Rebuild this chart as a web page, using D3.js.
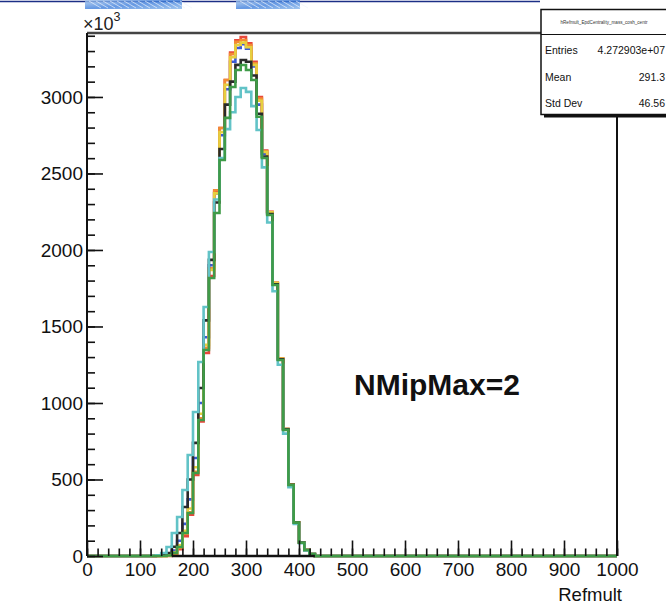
<!DOCTYPE html>
<html>
<head>
<meta charset="utf-8">
<script src="https://cdn.jsdelivr.net/npm/d3@7/dist/d3.min.js"></script>
<style>
  html, body { margin: 0; padding: 0; background: #fff; }
  svg { display: block; font-family: "Liberation Sans", Arial, Helvetica, sans-serif; }
</style>
</head>
<body>
<svg id="chart" width="666" height="606"></svg>
<script>
// Refmult distributions, bin width 10, counts in units of 10^3, first bin starts at 120
const binWidth = 10;
const firstBin = 120;
const xTicks = [0, 100, 200, 300, 400, 500, 600, 700, 800, 900, 1000];
const yTicks = [0, 500, 1000, 1500, 2000, 2500, 3000];

const seriesNames = ["blue", "red", "orange", "yellow", "black", "teal", "green"];
const seriesColors = ["#3b5bd6", "#e8473b", "#f28c33", "#e6cf3f", "#2a2a2a", "#62c3c7", "#3f9b48"];

//                 120 130 140 150  160  170  180  190  200  210  220   230   240   250   260   270   280   290   300   310   320   330   340   350   360   370  380  390  400 410 420
const blueVals   = [0,  0,  3,  10,  35, 100, 210, 370, 640, 1000, 1430, 1900, 2370, 2750, 3050, 3230, 3320, 3345, 3315, 3200, 2950, 2630, 2245, 1782, 1288, 829, 466, 220, 88, 39, 13];
const redVals    = [0,  0,  0,  0,   10,  45, 130, 270, 529, 880, 1327, 1830, 2380, 2797, 3111, 3290, 3370, 3392, 3350, 3230, 3000, 2650, 2250, 1785, 1290, 830, 467, 220, 88, 39, 13];
const orangeVals = [0,  0,  0,  2,   15,  55, 145, 285, 550, 900, 1360, 1880, 2390, 2797, 3111, 3280, 3360, 3372, 3340, 3220, 2990, 2645, 2248, 1785, 1290, 830, 467, 220, 88, 39, 13];
const yellowVals = [0,  0,  0,  4,   22,  70, 165, 310, 580, 930, 1380, 1870, 2370, 2770, 3080, 3260, 3340, 3355, 3325, 3210, 2975, 2640, 2246, 1784, 1289, 829, 466, 220, 88, 39, 13];
const blackVals  = [0,  2,  6,  20,  60, 150, 320, 500, 739, 1098, 1540, 1935, 2310, 2660, 2950, 3100, 3210, 3242, 3230, 3140, 2890, 2610, 2235, 1775, 1285, 828, 466, 219, 88, 39, 13];
const tealVals   = [2,  5, 20,  59, 150, 255, 431, 660, 941, 1268, 1627, 1987, 2330, 2600, 2790, 2900, 3000, 3059, 3033, 2940, 2784, 2540, 2180, 1730, 1250, 800, 450, 210, 84, 37, 12];
const greenVals  = [0,  0,  0,  3,   20,  59, 150, 281, 542, 889, 1346, 1817, 2242, 2588, 2863, 3065, 3176, 3209, 3176, 3111, 2871, 2601, 2229, 1771, 1281, 824, 464, 218, 87, 39, 13];

const seriesValues = [blueVals, redVals, orangeVals, yellowVals, blackVals, tealVals, greenVals];

const statsTitle = "hRefmult_EpdCentrality_mass_cosh_centr";
const statsLabels = ["Entries", "Mean", "Std Dev"];
const statsValues = ["4.272903e+07", "291.3", "46.56"];

const annotation = "NMipMax=2";
const xTitle = "Refmult";

const svg = d3.select("#chart");
const frame = { left: 87, right: 617, top: 33, bottom: 556 };

const x = d3.scaleLinear().domain([0, 1000]).range([frame.left, frame.right]);
const y = d3.scaleLinear().domain([0, 3418]).range([frame.bottom, frame.top]);

// decorative strip along the top edge of the window
const topStrip = svg.append("g");
const grad = svg.append("defs").append("linearGradient").attr("id", "streak")
  .attr("x1", "0").attr("x2", "1").attr("y1", "0").attr("y2", "1");
grad.append("stop").attr("offset", "0%").attr("stop-color", "#a9c9ee");
grad.append("stop").attr("offset", "50%").attr("stop-color", "#3f7fdc");
grad.append("stop").attr("offset", "100%").attr("stop-color", "#8ab8ec");
topStrip.append("line").attr("x1", 0).attr("x2", 540).attr("y1", 1.5).attr("y2", 1.5)
  .attr("stroke", "#1c2f86").attr("stroke-width", 1.5);
[[85, 182], [236, 300]].forEach(([a, b]) => {
  topStrip.append("rect").attr("x", a).attr("y", 0).attr("width", b - a).attr("height", 9)
    .attr("fill", "url(#streak)").attr("opacity", 0.8);
  for (let i = a + 4; i < b; i += 7) {
    topStrip.append("line").attr("x1", i).attr("x2", i + 12).attr("y1", 1).attr("y2", 8)
      .attr("stroke", "#eef4fc").attr("stroke-width", 0.9).attr("opacity", 0.75);
  }
});

// histograms as step outlines
const edges = d3.range(0, 1000 + binWidth, binWidth);
function fullBins(vals) {
  return edges.slice(0, -1).map(e => {
    const i = (e - firstBin) / binWidth;
    return (i >= 0 && i < vals.length) ? vals[i] : 0;
  });
}
const stepLine = d3.line()
  .x(d => x(d[0]))
  .y(d => y(d[1]))
  .curve(d3.curveStepAfter);

const histG = svg.append("g");
seriesValues.forEach((vals, k) => {
  const bins = fullBins(vals);
  const pts = bins.map((v, i) => [edges[i], v]);
  pts.push([1000, bins[bins.length - 1]]);
  histG.append("path")
    .attr("d", stepLine(pts))
    .attr("fill", "none")
    .attr("stroke", seriesColors[k])
    .attr("stroke-width", 2.6)
    .attr("stroke-linejoin", "miter")
    .attr("class", "hist-" + seriesNames[k]);
});

// frame
const frameG = svg.append("g");
frameG.append("line").attr("x1", frame.left).attr("x2", frame.right).attr("y1", frame.top).attr("y2", frame.top)
  .attr("stroke", "#444").attr("stroke-width", 2.5);
frameG.append("line").attr("x1", frame.right).attr("x2", frame.right).attr("y1", frame.top).attr("y2", frame.bottom)
  .attr("stroke", "#111").attr("stroke-width", 2);

// x axis: major and minor ticks pointing into the frame
const labelFont = 19;
const xMinor = d3.axisBottom(x).tickValues(d3.range(0, 1001, 20)).tickSizeInner(-7.5).tickSizeOuter(0).tickFormat("");
const xMajor = d3.axisBottom(x).tickValues(xTicks).tickSizeInner(-15.5).tickSizeOuter(0).tickPadding(7).tickFormat(d3.format("d"));
const gxMinor = svg.append("g").attr("transform", `translate(0,${frame.bottom})`).call(xMinor);
const gx = svg.append("g").attr("transform", `translate(0,${frame.bottom})`).call(xMajor);
[gxMinor, gx].forEach(g => {
  g.select(".domain").remove();
  g.selectAll(".tick line").attr("stroke", "#111").attr("stroke-width", 1.6);
});
gx.selectAll(".tick text").attr("font-size", labelFont).attr("fill", "#111")
  .attr("font-family", "'Liberation Sans', Arial, sans-serif");

// y axis
const yMinor = d3.axisLeft(y).tickValues(d3.range(0, 3401, 100)).tickSizeInner(-8).tickSizeOuter(0).tickFormat("");
const yMajor = d3.axisLeft(y).tickValues(yTicks).tickSizeInner(-16).tickSizeOuter(0).tickPadding(4).tickFormat(d3.format("d"));
const gyMinor = svg.append("g").attr("transform", `translate(${frame.left},0)`).call(yMinor);
const gy = svg.append("g").attr("transform", `translate(${frame.left},0)`).call(yMajor);
[gyMinor, gy].forEach(g => {
  g.select(".domain").remove();
  g.selectAll(".tick line").attr("stroke", "#111").attr("stroke-width", 1.6);
});
gy.selectAll(".tick text").attr("font-size", labelFont).attr("fill", "#111")
  .attr("font-family", "'Liberation Sans', Arial, sans-serif");

// axis lines
svg.append("line").attr("x1", frame.left).attr("x2", frame.left).attr("y1", frame.top).attr("y2", frame.bottom)
  .attr("stroke", "#111").attr("stroke-width", 2);
// axis line showing through where the green outline leaves the zero level
svg.append("line").attr("x1", x(firstBin + 4 * binWidth)).attr("x2", x(430))
  .attr("y1", frame.bottom).attr("y2", frame.bottom).attr("stroke", "#111").attr("stroke-width", 2.4);

// exponent label
const expo = svg.append("text").attr("x", 83).attr("y", 30).attr("font-size", 18).attr("fill", "#222");
expo.append("tspan").text("\u00d710");
expo.append("tspan").attr("dy", -9).attr("font-size", 12.5).text("3");

// x axis title
svg.append("text").attr("x", 622).attr("y", 601).attr("text-anchor", "end")
  .attr("font-size", 18.5).attr("fill", "#111").text(xTitle);

// annotation
svg.append("text").attr("x", 354).attr("y", 395).attr("font-size", 30).attr("font-weight", "bold")
  .attr("fill", "#111").text(annotation);

// statistics box
const sb = { x: 541, y: 9.5, w: 130, h: 105, head: 25 };
const statsG = svg.append("g");
statsG.append("rect").attr("x", sb.x + 3).attr("y", sb.y + 3).attr("width", sb.w).attr("height", sb.h).attr("fill", "#111");
statsG.append("rect").attr("x", sb.x).attr("y", sb.y).attr("width", sb.w).attr("height", sb.h)
  .attr("fill", "#fff").attr("stroke", "#111").attr("stroke-width", 1.5);
statsG.append("line").attr("x1", sb.x).attr("x2", sb.x + sb.w).attr("y1", sb.y + sb.head).attr("y2", sb.y + sb.head)
  .attr("stroke", "#111").attr("stroke-width", 1.2);
statsG.append("text").attr("x", 604).attr("y", 24).attr("text-anchor", "middle")
  .attr("font-size", 4.6).attr("fill", "#333").text(statsTitle);
statsLabels.forEach((lab, i) => {
  const yy = 54 + i * 26.5;
  statsG.append("text").attr("x", 545).attr("y", yy).attr("font-size", 10.5).attr("fill", "#111").text(lab);
  statsG.append("text").attr("x", 665).attr("y", yy).attr("text-anchor", "end")
    .attr("font-size", 10.5).attr("fill", "#111").text(statsValues[i]);
});
// right frame edge continuing below the box
svg.append("line").attr("x1", frame.right).attr("x2", frame.right).attr("y1", sb.y + sb.h).attr("y2", frame.top + 90)
  .attr("stroke", "#111").attr("stroke-width", 2);
</script>
</body>
</html>
